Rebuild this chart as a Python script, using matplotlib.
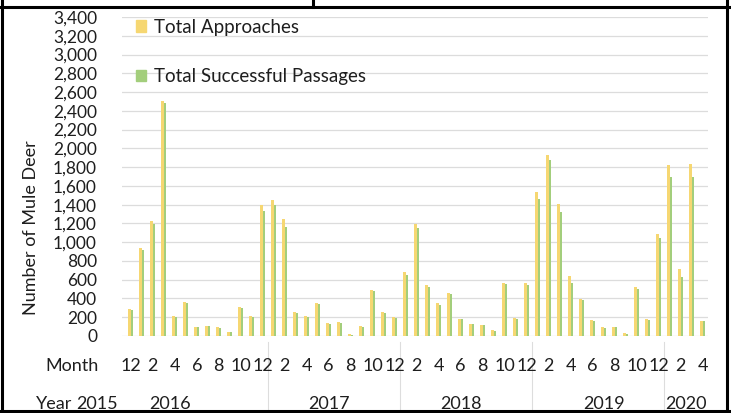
import matplotlib
matplotlib.use("Agg")
import matplotlib.pyplot as plt
from matplotlib.patches import Patch
from matplotlib.lines import Line2D
import numpy as np

plt.rcParams['font.family'] = ['Lato', 'DejaVu Sans']

# monthly counts, Dec 2015 .. Apr 2020
months = [12] + list(range(1, 13)) * 4 + [1, 2, 3, 4]
year_names = ['2015', '2016', '2017', '2018', '2019', '2020']
year_centers = [-3.1, 3.6, 18.0, 30.0, 43.0, 50.5]
year_breaks = [12.5, 24.5, 36.5, 48.5]

approaches = [
    290,
    935, 1225, 2500, 210, 365, 100, 110, 95, 45, 310, 210, 1395,
    1445, 1245, 255, 210, 355, 135, 145, 20, 105, 490, 255, 200,
    685, 1195, 540, 355, 460, 185, 130, 120, 65, 570, 190, 560,
    1535, 1925, 1410, 635, 390, 175, 100, 100, 30, 520, 180, 1090,
    1820, 710, 1830, 160,
]
passages = [
    280,
    920, 1190, 2480, 200, 355, 95, 105, 90, 40, 300, 200, 1335,
    1395, 1165, 245, 205, 345, 130, 140, 15, 100, 480, 245, 195,
    650, 1150, 525, 330, 450, 180, 125, 115, 55, 555, 185, 545,
    1455, 1875, 1325, 560, 385, 165, 90, 95, 20, 505, 175, 1040,
    1695, 630, 1695, 155,
]

yellow = '#F6D772'
green = '#A3CE7C'
txt = '#1E1E1E'

W, H = 731, 413
fig = plt.figure(figsize=(W / 100, H / 100), dpi=100)
ax = fig.add_axes([122 / W, 77 / H, 586 / W, 319 / H])

x = np.arange(len(approaches))
bw = 0.24
ax.bar(x - bw / 2, approaches, width=bw, color=yellow, zorder=3)
ax.bar(x + bw / 2, passages, width=bw, color=green, zorder=3)

ax.set_xlim(-0.8, 52.5)
ax.set_ylim(0, 3400)
ax.set_yticks(np.arange(0, 3401, 200))
ax.set_yticklabels([f'{v:,}' for v in range(0, 3401, 200)], fontsize=12.5, color=txt)
ax.tick_params(axis='y', length=0, pad=18)
ax.set_xticks([])
ax.grid(axis='y', color='#DCDCDC', lw=0.9, zorder=0)
for s in ax.spines.values():
    s.set_visible(False)

# two-level category axis drawn by hand
tr = ax.get_xaxis_transform()
for i, m in enumerate(months):
    if m % 2 == 0:
        ax.text(i, -0.094, str(m), transform=tr, ha='center', va='center',
                fontsize=13, color=txt)
for name, c in zip(year_names, year_centers):
    ax.text(c, -0.212, name, transform=tr, ha='center', va='center',
            fontsize=13, color=txt)
for b in year_breaks:
    ax.plot([b, b], [-0.02, -0.26], transform=tr, color='#DDDDDD', lw=0.8,
            clip_on=False)
ax.text(-0.04, -0.094, 'Month', transform=ax.transAxes, ha='right',
        va='center', fontsize=13, color=txt)
ax.text(-0.084, -0.212, 'Year', transform=ax.transAxes, ha='right',
        va='center', fontsize=13, color=txt)

fig.text(31 / W, 1 - 228 / H, 'Number of Mule Deer', rotation=90,
         ha='center', va='center', fontsize=13, color=txt)

handles = [Patch(color=yellow), Patch(color=green)]
ax.legend(handles, ['Total Approaches', 'Total Successful Passages'],
          loc='upper left', bbox_to_anchor=(0.008, 1.024), frameon=False,
          borderpad=0, handlelength=0.55, handleheight=0.55,
          handletextpad=0.4, labelspacing=1.72, fontsize=13.5,
          labelcolor=txt)

# surrounding table border
def fline(xs, ys, lw=2.2):
    fig.add_artist(Line2D([v / W for v in xs], [1 - v / H for v in ys],
                          transform=fig.transFigure, color='black', lw=lw))

fline([0, W], [7, 7])
fline([2, 2], [0, H])
fline([727, 727], [0, H])
fline([0, W], [411, 411])
fline([313, 313], [0, 7])

fig.savefig('out.png', dpi=100)
